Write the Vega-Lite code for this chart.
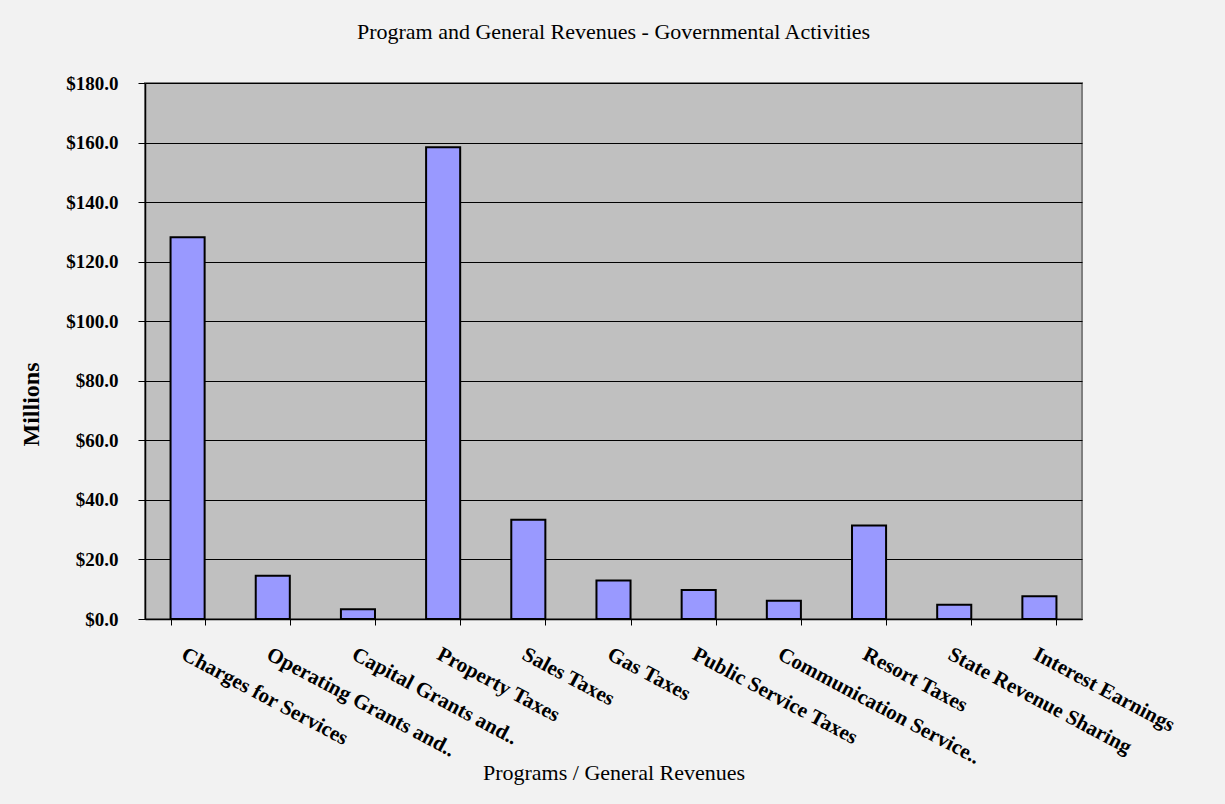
{
  "$schema": "https://vega.github.io/schema/vega-lite/v6.json",
  "width": 937,
  "height": 536,
  "autosize": "none",
  "padding": {"left": 145, "top": 83, "right": 143, "bottom": 185},
  "background": "#f2f2f2",
  "title": {
    "text": "Program and General Revenues - Governmental Activities",
    "font": "Liberation Serif",
    "fontSize": 22,
    "fontWeight": "normal",
    "color": "#000000",
    "anchor": "middle",
    "offset": 30
  },
  "data": {
    "values": [
      {"category": "Charges for Services", "value": 128.2},
      {"category": "Operating Grants and..", "value": 14.5},
      {"category": "Capital Grants and..", "value": 3.3},
      {"category": "Property Taxes", "value": 158.4},
      {"category": "Sales Taxes", "value": 33.3},
      {"category": "Gas Taxes", "value": 12.9},
      {"category": "Public Service Taxes", "value": 9.7},
      {"category": "Communication Service..", "value": 6.1},
      {"category": "Resort Taxes", "value": 31.4},
      {"category": "State Revenue Sharing", "value": 4.8},
      {"category": "Interest Earnings", "value": 7.6}
    ]
  },
  "mark": {"type": "bar", "fill": "#9999FF", "stroke": "#000000", "strokeWidth": 2},
  "encoding": {
    "x": {
      "field": "category",
      "type": "nominal",
      "sort": null,
      "scale": {"paddingInner": 0.6, "paddingOuter": 0.3},
      "axis": {
        "title": "Programs / General Revenues",
        "titleFont": "Liberation Serif",
        "titleFontSize": 22,
        "titleFontWeight": "normal",
        "titleColor": "#000000",
        "titleY": 153,
        "titleBaseline": "middle",
        "labelFont": "Liberation Serif",
        "labelFontSize": 21,
        "labelFontWeight": "bold",
        "labelColor": "#000000",
        "labelAngle": 28,
        "labelAlign": "left",
        "labelBaseline": "top",
        "labelPadding": 18,
        "labelOverlap": false,
        "labelLimit": 400,
        "tickBand": "extent",
        "tickColor": "#000000",
        "tickSize": 6,
        "domainColor": "#000000",
        "domainWidth": 1.5,
        "grid": false
      }
    },
    "y": {
      "field": "value",
      "type": "quantitative",
      "scale": {"domain": [0, 180], "nice": false},
      "axis": {
        "title": "Millions",
        "titleFont": "Liberation Serif",
        "titleFontSize": 24,
        "titleFontWeight": "bold",
        "titleColor": "#000000",
        "titlePadding": 22,
        "titleY": 321,
        "titleBaseline": "bottom",
        "values": [0, 20, 40, 60, 80, 100, 120, 140, 160, 180],
        "format": "$.1f",
        "labelFont": "Liberation Serif",
        "labelFontSize": 19,
        "labelFontWeight": "bold",
        "labelColor": "#000000",
        "labelPadding": 20,
        "tickColor": "#000000",
        "tickSize": 7,
        "domainColor": "#000000",
        "domainWidth": 1.5,
        "grid": true,
        "gridColor": "#000000",
        "gridWidth": 1
      }
    }
  },
  "config": {
    "view": {"fill": "#c0c0c0", "stroke": "#808080", "strokeWidth": 2}
  }
}
